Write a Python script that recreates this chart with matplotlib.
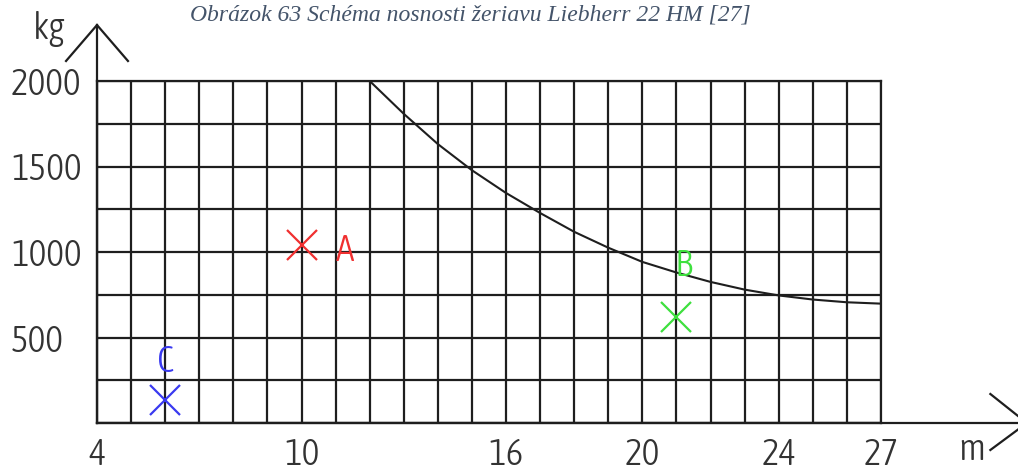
import numpy as np
import matplotlib
matplotlib.use("Agg")
import matplotlib.pyplot as plt
from matplotlib import font_manager

# Load chart of the crane: outreach (m) vs. permitted load (kg)
reach_m = [12, 13, 14, 15, 16, 17, 18, 19, 20, 21, 22, 23, 24, 25, 26, 27]
capacity_kg = [2000, 1808, 1631, 1478, 1345, 1228, 1118, 1025, 942, 880, 825, 780, 746, 722, 706, 698]

# Checked load cases
case_names = ["A", "B", "C"]
case_reach = [10, 21, 6]
case_load = [1040, 620, 135]
case_colors = ["#f03030", "#3ee03e", "#3a3af0"]

x_tick_values = [4, 10, 16, 20, 24, 27]
y_tick_values = [500, 1000, 1500, 2000]
title_text = "Obrázok 63 Schéma nosnosti žeriavu Liebherr 22 HM [27]"


def narrow_font():
    """Pick a condensed sans face if one is installed, lighter weights first."""
    cands = [f for f in font_manager.fontManager.ttflist
             if f.style == "normal"
             and ("Narrow" in f.name or "Condensed" in f.name
                  or "condensed" in str(f.stretch) or "Condensed" in f.fname
                  or "Narrow" in f.fname)
             and "Mono" not in f.name and "Serif" not in f.name]

    def wt(f):
        try:
            return int(f.weight)
        except (TypeError, ValueError):
            return {"light": 300, "normal": 400, "regular": 400}.get(str(f.weight), 500)

    for target in (300, 400):
        for f in cands:
            if wt(f) == target:
                return font_manager.FontProperties(fname=f.fname), True
    if cands:
        return font_manager.FontProperties(fname=cands[0].fname), True
    return font_manager.FontProperties(family="Liberation Sans"), False


label_fp, is_narrow = narrow_font()
fs = 27 if is_narrow else 22

ink = "#1e1e1e"
text_ink = "#333333"
W, H = 1018, 474

fig = plt.figure(figsize=(W / 100, H / 100), dpi=100)
ax = fig.add_axes([97 / W, 1 - 423 / H, 784 / W, 342 / H])
ax.set_xlim(4, 27)
ax.set_ylim(0, 2000)

# 1 m by 250 kg grid
ax.set_xticks(np.arange(4, 28, 1), minor=True)
ax.set_yticks(np.arange(0, 2001, 250), minor=True)
ax.set_xticks(x_tick_values)
ax.set_yticks(y_tick_values)
ax.grid(which="both", color=ink, lw=1.6)
ax.set_axisbelow(True)
for s in ax.spines.values():
    s.set_color(ink)
    s.set_linewidth(1.6)

ax.tick_params(which="both", length=0)
ax.tick_params(axis="x", pad=10, labelcolor=text_ink)
ax.tick_params(axis="y", pad=62, labelcolor=text_ink)
for lab in ax.get_xticklabels() + ax.get_yticklabels():
    lab.set_fontproperties(label_fp)
    lab.set_fontsize(fs)
for lab in ax.get_yticklabels():
    lab.set_horizontalalignment("left")

# Capacity curve
ax.plot(reach_m, capacity_kg, color=ink, lw=1.5, zorder=3, solid_joinstyle="round")

# Load cases with their letters
label_offsets = {"A": (31, -4), "B": (5, 37), "C": (0, 27)}
for name, x, y, c in zip(case_names, case_reach, case_load, case_colors):
    ax.plot([x], [y], marker="x", ms=21, mew=1.6, color=c, ls="none", zorder=4)
    ax.annotate(name, (x, y), xytext=label_offsets[name], textcoords="offset points",
                ha="center", va="center", color=c, fontproperties=label_fp,
                fontsize=fs, zorder=4)

# Axis arrows drawn in axes-fraction coordinates
tr = ax.transAxes
ax.plot([0, 0], [0, 1.1637], color=ink, lw=1.6, transform=tr, clip_on=False)
ax.plot([-0.0395, 0, 0.0395], [1.0585, 1.1637, 1.0585], color=ink, lw=1.6,
        transform=tr, clip_on=False, solid_joinstyle="miter")
ax.plot([0, 1.19], [0, 0], color=ink, lw=1.6, transform=tr, clip_on=False)
ax.plot([1.1395, 1.186, 1.1395], [0.0848, 0, -0.0789], color=ink, lw=1.6,
        transform=tr, clip_on=False)

fig.text(49 / W, 1 - 29 / H, "kg", ha="center", va="center", fontproperties=label_fp,
         fontsize=fs, color=text_ink)
fig.text(972 / W, 1 - 450 / H, "m", ha="center", va="center", fontproperties=label_fp,
         fontsize=fs, color=text_ink)

fig.text(470 / W, 1 - 15 / H, title_text, ha="center", va="center", fontsize=17,
         style="italic", family="Liberation Serif", color="#44546a")

fig.savefig("out.png", dpi=100)
